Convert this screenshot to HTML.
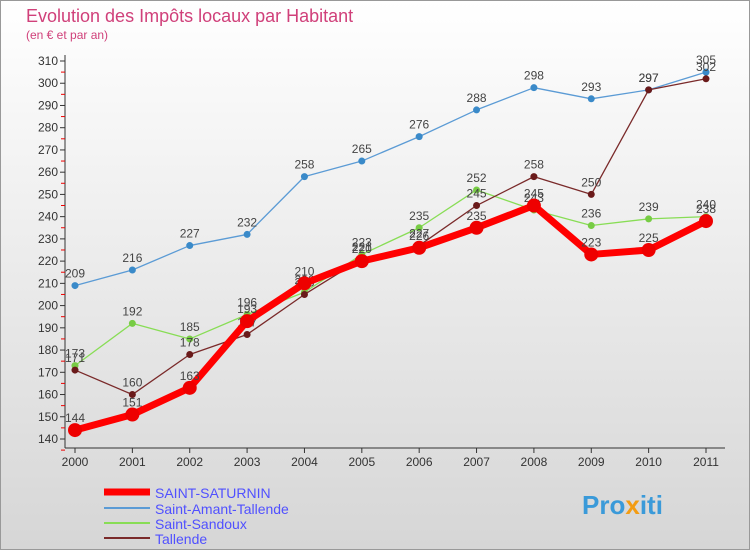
<!DOCTYPE html>
<html><head><meta charset="utf-8"><style>
body{margin:0;width:750px;height:550px;overflow:hidden;font-family:"Liberation Sans",sans-serif}
svg text{font-family:"Liberation Sans",sans-serif}
</style></head><body>
<svg id="c" width="750" height="550" xmlns="http://www.w3.org/2000/svg">
<defs><linearGradient id="bg" x1="0" y1="0" x2="0" y2="1"><stop offset="0" stop-color="#ffffff"/><stop offset="1" stop-color="#d6d6d6"/></linearGradient></defs>
<rect x="0.5" y="0.5" width="749" height="549" fill="url(#bg)" stroke="#999"/>
<text x="26" y="22" font-size="18" fill="#d0407a">Evolution des Impôts locaux par Habitant</text>
<text x="26" y="39" font-size="12" fill="#d0407a">(en € et par an)</text>
<g id="axes"></g><g id="series"></g>
<g>
<line x1="104" y1="492" x2="150" y2="492" stroke="#ff0000" stroke-width="7"/>
<text x="155" y="498" font-size="14" fill="#5050ff">SAINT-SATURNIN</text>
<line x1="104" y1="508" x2="150" y2="508" stroke="#5b9bd5" stroke-width="2"/>
<text x="155" y="514" font-size="14" fill="#5050ff">Saint-Amant-Tallende</text>
<line x1="104" y1="523" x2="150" y2="523" stroke="#88dd55" stroke-width="2"/>
<text x="155" y="529" font-size="14" fill="#5050ff">Saint-Sandoux</text>
<line x1="104" y1="538" x2="150" y2="538" stroke="#7a2a2a" stroke-width="2"/>
<text x="155" y="544" font-size="14" fill="#5050ff">Tallende</text>
</g>
<text x="582" y="514" font-size="26" font-weight="bold" fill="#3a9ad9">Pro<tspan fill="#f39c12">x</tspan>iti</text>
</svg>
<script>
const years=[2000,2001,2002,2003,2004,2005,2006,2007,2008,2009,2010,2011];
const yTicks=[140,150,160,170,180,190,200,210,220,230,240,250,260,270,280,290,300,310];
const saturnin=[144,151,163,193,210,220,226,235,245,223,225,238];
const amant=[209,216,227,232,258,265,276,288,298,293,297,305];
const sandoux=[173,192,185,196,206,223,235,252,243,236,239,240];
const tallende=[171,160,178,187,205,221,227,245,258,250,297,302];
const NS="http://www.w3.org/2000/svg";
const xs=i=>75+i*(706-75)/11;
const ys=v=>439-(v-140)*(439-61)/170;
function mk(t,a,p){const e=document.createElementNS(NS,t);for(const k in a)e.setAttribute(k,a[k]);p.appendChild(e);return e;}
const ax=document.getElementById('axes');
const yl=mk('line',{x1:65,y1:55,x2:65,y2:448,stroke:'#333'},ax);


const xl=mk('line',{x1:65,y1:448,x2:725,y2:448,stroke:'#333'},ax);


yTicks.forEach(v=>{const y=ys(v);
mk('line',{x1:60,y1:y,x2:65,y2:y,stroke:'#333'},ax);
mk('line',{x1:61,y1:y+11.1,x2:65,y2:y+11.1,stroke:'#e00'},ax);
const t=mk('text',{x:58,y:y+4,'font-size':12,'text-anchor':'end',fill:'#333'},ax);t.textContent=v;

});
years.forEach((yr,i)=>{const x=xs(i);
mk('line',{x1:x,y1:448,x2:x,y2:453,stroke:'#333'},ax);
const t=mk('text',{x:x,y:466,'font-size':12,'text-anchor':'middle',fill:'#333'},ax);t.textContent=yr;

});
const sg=document.getElementById('series');
function draw(data,color,w,r,name,dot){
const g=mk('g',{},sg);


mk('polyline',{points:data.map((v,i)=>xs(i)+','+ys(v)).join(' '),fill:'none',stroke:color,'stroke-width':w,'stroke-linejoin':'round'},g);
data.forEach((v,i)=>{const c=mk('circle',{cx:xs(i),cy:ys(v),r:r,fill:dot||color},g);


const t=mk('text',{x:xs(i),y:ys(v)-8,'font-size':12,'text-anchor':'middle',fill:'#444'},g);t.textContent=v;

});}
draw(amant,'#5b9bd5',1.3,3.5,'series-saint-amant-tallende','#3a8ac9');
draw(sandoux,'#88dd55',1.3,3.5,'series-saint-sandoux','#77cc44');
draw(tallende,'#7a2a2a',1.3,3.5,'series-tallende','#6a1a1a');
draw(saturnin,'#ff0000',7,7,'series-saint-saturnin','#ee0000');
</script>
</body></html>
